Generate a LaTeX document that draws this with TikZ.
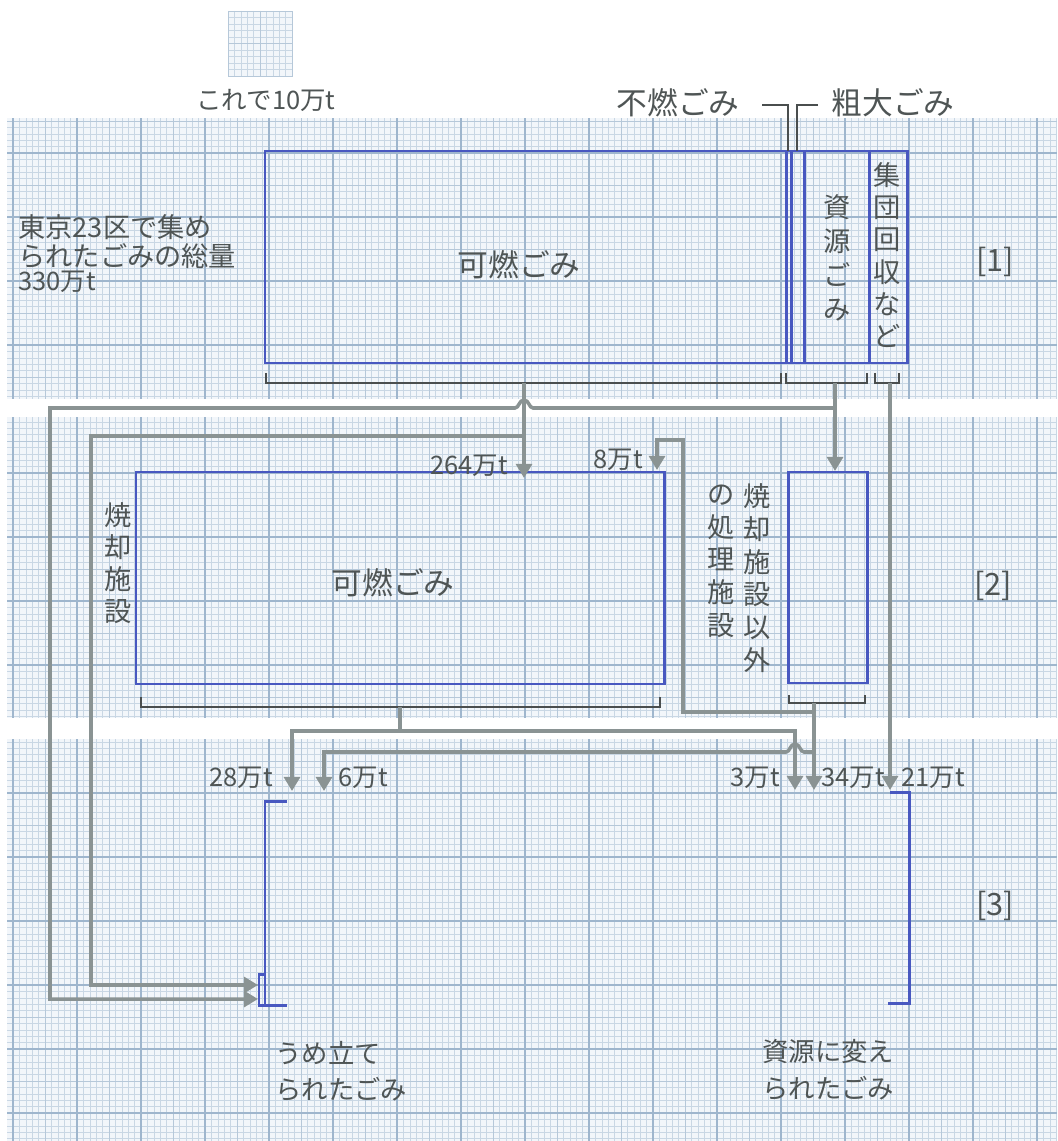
\documentclass[tikz,border=0pt]{standalone}
\usepackage{fontspec}
\setmainfont{Noto Sans CJK JP}
\usetikzlibrary{arrows.meta}
\definecolor{paper}{HTML}{F2F6FA}
\definecolor{gfine}{HTML}{C9D7E4}
\definecolor{gmid}{HTML}{B6C8D9}
\definecolor{gmaj}{HTML}{9FB6CD}
\definecolor{boxblue}{HTML}{4858C0}
\definecolor{flow}{HTML}{8A9393}
\definecolor{ink}{HTML}{4F5555}
\definecolor{brk}{HTML}{4A4E4E}
\begin{document}
\begin{tikzpicture}[x=0.02cm,y=-0.02cm,
  flowplain/.style={draw=flow, line width=2pt},
  flowarrow/.style={draw=flow, line width=2pt, -{Triangle[width=9pt,length=8pt]}},
  bluebox/.style={draw=boxblue, line width=1.7pt},
  brack/.style={draw=brk, line width=0.9pt},
  lbl/.style={text=ink, inner sep=0pt, font=\fontsize{14.5}{17}\selectfont},
  biglbl/.style={text=ink, inner sep=0pt, font=\fontsize{17.5}{20}\selectfont},
  leftlbl/.style={text=ink, inner sep=0pt, anchor=west, font=\fontsize{15.5}{18}\selectfont},
  vtext/.style={text=ink, inner sep=0pt, align=center},
  gfineline/.style={draw=gfine, line width=0.3pt},
  gmidline/.style={draw=gmid, line width=0.45pt},
  gmajline/.style={draw=gmaj, line width=0.7pt}]
\useasboundingbox (0,0) rectangle (1057,1141);
% ---------- graph paper ----------
\fill[paper] (0,0) rectangle (1057,1141);
\draw[gfineline] \foreach \k in {-2,...,164} { ({13+6.4*\k},0) -- ({13+6.4*\k},1141) };
\draw[gfineline] \foreach \k in {-4,...,175} { (0,{25+6.4*\k}) -- (1057,{25+6.4*\k}) };
\draw[gmidline] \foreach \k in {0,...,33} { ({13+32*\k},0) -- ({13+32*\k},1141) };
\draw[gmidline] \foreach \k in {-1,...,35} { (0,{25+32*\k}) -- (1057,{25+32*\k}) };
\draw[gmajline] \foreach \k in {0,...,16} { ({13+64*\k},0) -- ({13+64*\k},1141) };
\draw[gmajline] \foreach \k in {0,...,17} { (0,{25+64*\k}) -- (1057,{25+64*\k}) };
\fill[white] (0,0) rectangle (1057,118);
\fill[white] (0,399) rectangle (1057,417);
\fill[white] (0,718) rectangle (1057,739);
\fill[white] (0,0) rectangle (7,1141);
% legend square
\begin{scope}
  \clip (228,11) rectangle (292,76);
  \fill[paper] (228,11) rectangle (292,76);
  \draw[gfineline] \foreach \k in {0,...,10} { ({228+6.4*\k},11) -- ({228+6.4*\k},76) };
  \draw[gfineline] \foreach \k in {0,...,10} { (228,{11+6.5*\k}) -- (292,{11+6.5*\k}) };
  \draw[gmidline] (260,11) -- (260,76) (228,43.5) -- (292,43.5);
\end{scope}
\draw[gmidline] (228,11) rectangle (292,76);
\node[lbl] (legend) at (266,100) {これで10万t};
% ---------- [1] collected ----------
\draw[bluebox] (265,151) rectangle (907,363);
\draw[bluebox] (786,151) -- (786,363) (791,151) -- (791,363) (804,151) -- (804,363) (869,151) -- (869,363);
\node[biglbl] (kanen1) at (519,265) {可燃ごみ};
\node[vtext, font=\fontsize{15.5}{19.3}\selectfont] (shigen1) at (837,258) {資\\源\\ご\\み};
\node[vtext, font=\fontsize{15.5}{18.4}\selectfont] (shudan) at (887,255) {集\\団\\回\\収\\な\\ど};
\node[biglbl] (funen) at (678,103) {不燃ごみ};
\node[biglbl] (sodai) at (893,103) {粗大ごみ};
\draw[brack, line width=1.1pt] (762,105) -- (788,105) -- (788,151);
\draw[brack, line width=1.1pt] (818,105) -- (797,105) -- (797,151);
\node[leftlbl] (tot1) at (18,227) {東京23区で集め};
\node[leftlbl] (tot2) at (18,256) {られたごみの総量};
\node[lbl, anchor=west] (tot3) at (18,282) {330万t};
\node[biglbl] (n1) at (995,262) {[1]};
% brackets under [1]
\draw[brack] (266,373) -- (266,383) -- (781,383) -- (781,373);
\draw[brack] (786,373) -- (786,383) -- (867,383) -- (867,373);
\draw[brack] (875,373) -- (875,383) -- (899,383) -- (899,373);
\coordinate (bk1) at (524,383);
\coordinate (bk2) at (835,383);
\coordinate (bk3) at (890,383);
% ---------- [2] facilities ----------
\draw[bluebox] (136,472) rectangle (664,684);
\node[biglbl] (kanen2) at (393,583) {可燃ごみ};
\node[vtext, font=\fontsize{15.5}{18.2}\selectfont] (shokyaku) at (118,563) {焼\\却\\施\\設};
\draw[bluebox] (788,472) rectangle (867,683);
\node[vtext, font=\fontsize{15.5}{18.6}\selectfont] (igai1) at (757,578) {焼\\却\\施\\設\\以\\外};
\node[vtext, font=\fontsize{15.5}{18.6}\selectfont] (igai2) at (721,561) {の\\処\\理\\施\\設};
\node[biglbl] (n2) at (993,586) {[2]};
\draw[brack] (141,697) -- (141,707) -- (660,707) -- (660,697);
\draw[brack] (789,695) -- (789,703) -- (865,703) -- (865,695);
\coordinate (bk4) at (400,707);
\coordinate (bk5) at (814,703);
% ---------- [3] results ----------
\draw[bluebox] (287,801) -- (265,801) -- (265,1005) -- (287,1005);
\draw[bluebox] (259,974) rectangle (265,1005);
\draw[bluebox] (890,792) -- (909,792) -- (909,1003) -- (888,1003);
\node[biglbl] (n3) at (995,906) {[3]};
\node[leftlbl, font=\fontsize{15}{18}\selectfont] (ume1) at (275,1053) {うめ立て};
\node[leftlbl, font=\fontsize{15}{18}\selectfont] (ume2) at (275,1089) {られたごみ};
\node[leftlbl, font=\fontsize{15}{18}\selectfont] (shi1) at (762,1052) {資源に変え};
\node[leftlbl, font=\fontsize{15}{18}\selectfont] (shi2) at (762,1088) {られたごみ};
% ---------- flow coordinates ----------
\coordinate (t264) at (524,478);
\coordinate (j1) at (524,436);
\coordinate (tume1) at (258,985);
\coordinate (t2b) at (835,471);
\coordinate (j2) at (835,408);
\coordinate (tume2) at (258,999);
\coordinate (t21) at (890,790);
\coordinate (j4) at (400,731);
\coordinate (t28) at (292,791);
\coordinate (t3) at (795,790);
\coordinate (t34) at (814,790);
\coordinate (j5) at (814,712);
\coordinate (t8) at (657,470);
\coordinate (j6) at (814,752);
\coordinate (t6) at (324,791);
% ---------- flows ----------
\draw[flowarrow] (bk1) -- (t264);
\draw[flowarrow] (j1) -- (91,436) -- (91,985) -- (tume1);
\draw[flowarrow] (bk2) -- (t2b);
\draw[flowarrow] (j2) -- (533,408) .. controls (529,408) and (529,400) .. (524,400) .. controls (519,400) and (519,408) .. (515,408) -- (50,408) -- (50,999) -- (tume2);
\draw[flowarrow] (bk3) -- (t21);
\draw[flowplain] (bk4) -- (j4);
\draw[flowarrow] (j4) -- (292,731) -- (t28);
\draw[flowarrow] (j4) -- (795,731) -- (t3);
\draw[flowarrow] (bk5) -- (t34);
\draw[flowarrow] (j5) -- (683,712) -- (683,440) -- (657,440) -- (t8);
\draw[flowarrow] (j6) -- (804,752) .. controls (800,752) and (800,744) .. (795,744) .. controls (790,744) and (790,752) .. (786,752) -- (324,752) -- (t6);
% ---------- amounts ----------
\node[lbl] (a264) at (469,466) {264万t};
\node[lbl] (a8) at (618,460) {8万t};
\node[lbl] (a28) at (241,778) {28万t};
\node[lbl] (a6) at (363,778) {6万t};
\node[lbl] (a3) at (755,778) {3万t};
\node[lbl] (a34) at (853,778) {34万t};
\node[lbl] (a21) at (933,778) {21万t};
\end{tikzpicture}
\end{document}
